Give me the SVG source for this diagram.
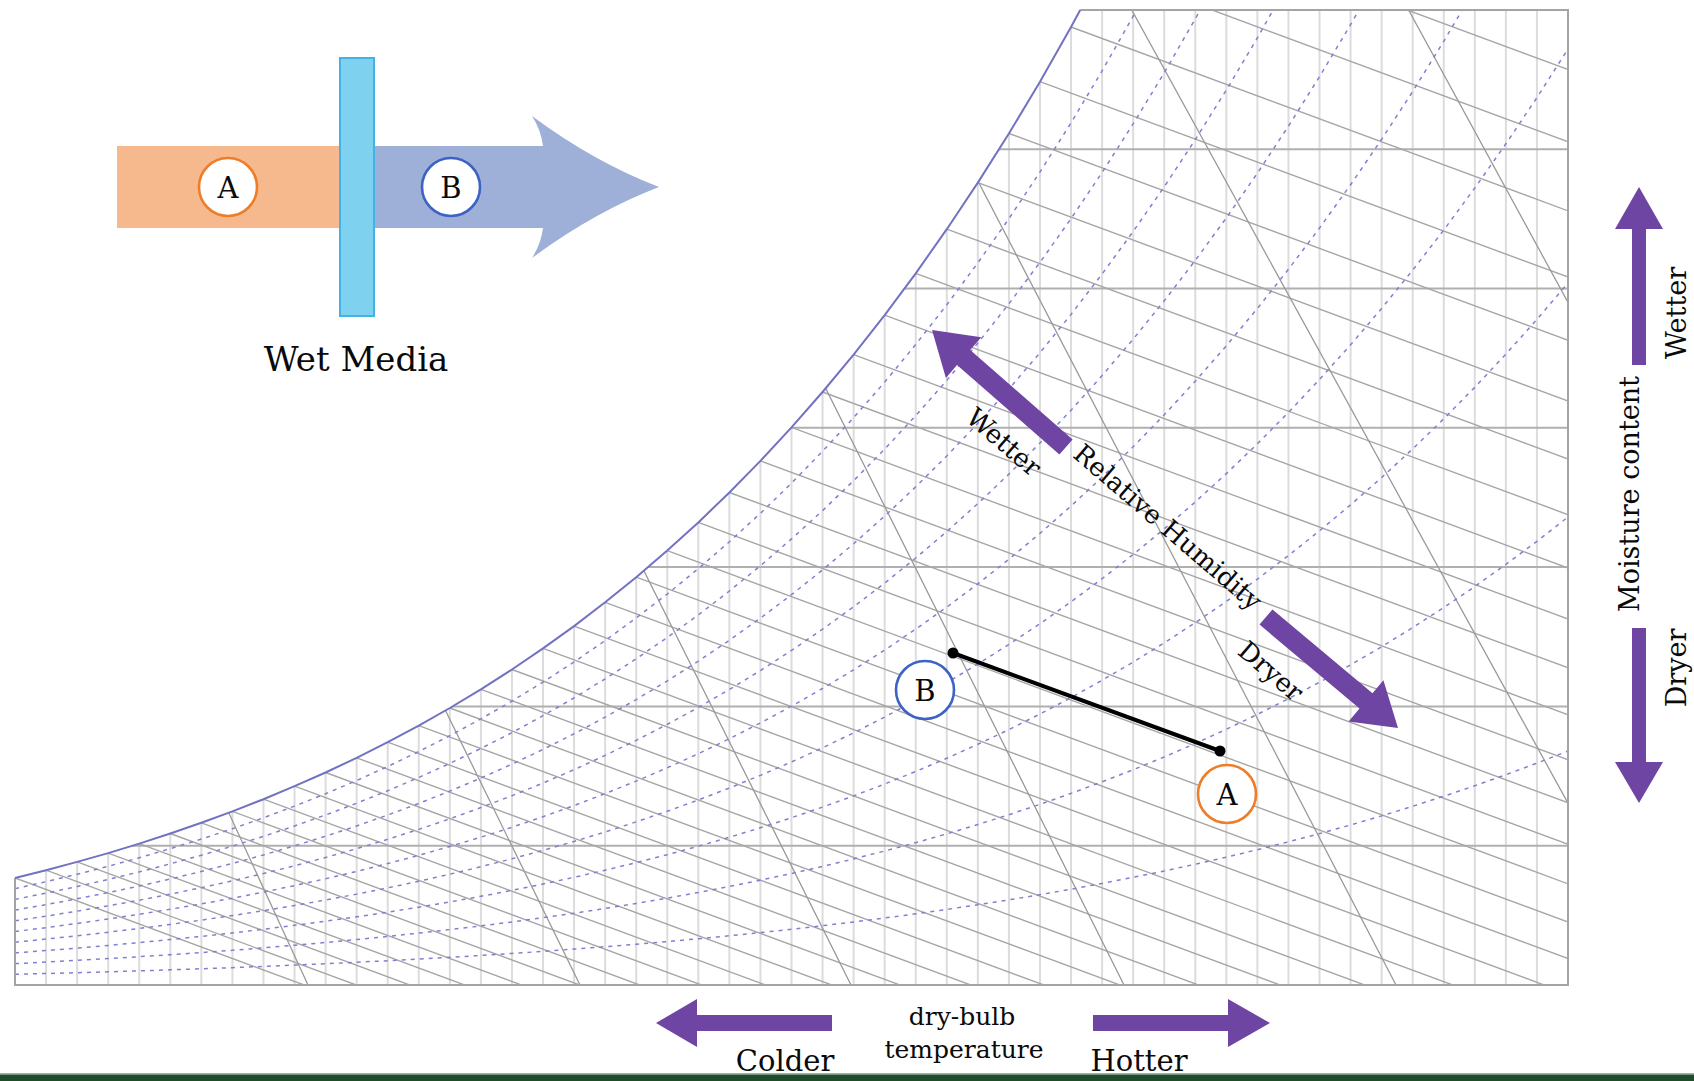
<svg xmlns="http://www.w3.org/2000/svg" xmlns:xlink="http://www.w3.org/1999/xlink" width="1694" height="1081" viewBox="0 0 1694 1081">
<defs>
<style>
.lbl{font-family:"DejaVu Serif","Liberation Serif",serif;fill:#0a0a0a}
.vgrid{stroke:#dcdcdc;stroke-width:2;fill:none}
.hgrid{stroke:#b0b0b0;stroke-width:2;fill:none}
.wb{stroke:#a6a6a6;stroke-width:1.4;fill:none}
.vol{stroke:#9a9a9a;stroke-width:1.3;fill:none}
.rh{stroke:#8080d0;stroke-width:1.5;stroke-dasharray:4 5;fill:none}
.frame{stroke:#a4a4a4;stroke-width:2;fill:none}
.sat{stroke:#7272c2;stroke-width:2;fill:none}
.purple{fill:#6f45a3}
.ring{fill:#fff;stroke-width:2.6}
</style>
<clipPath id="chartClip">
<path d="M15,985 L15,878 L46.06,870.2 L77.12,861.9 L108.18,853.1 L139.24,843.6 L170.3,833.5 L201.36,822.8 L232.42,811.4 L263.48,799.2 L294.54,786.2 L325.6,772.5 L356.66,757.8 L387.72,742.2 L418.78,725.6 L449.84,708 L480.9,689.3 L511.96,669.5 L543.02,648.4 L574.08,626.1 L605.14,602.3 L636.2,577.2 L667.26,550.6 L698.32,522.4 L729.38,492.5 L760.44,460.9 L791.5,427.4 L822.56,392 L853.62,354.6 L884.68,315.1 L915.74,273.3 L946.8,229.2 L977.86,182.6 L1008.92,133.5 L1039.98,81.7 L1071.04,27 L1080.2,10 L1568,10 L1568,985 Z"/>
</clipPath>
<path id="satExt" fill="none" vector-effect="non-scaling-stroke" d="M15,878 L46.06,870.2 L77.12,861.9 L108.18,853.1 L139.24,843.6 L170.3,833.5 L201.36,822.8 L232.42,811.4 L263.48,799.2 L294.54,786.2 L325.6,772.5 L356.66,757.8 L387.72,742.2 L418.78,725.6 L449.84,708 L480.9,689.3 L511.96,669.5 L543.02,648.4 L574.08,626.1 L605.14,602.3 L636.2,577.2 L667.26,550.6 L698.32,522.4 L729.38,492.5 L760.44,460.9 L791.5,427.4 L822.56,392 L853.62,354.6 L884.68,315.1 L915.74,273.3 L946.8,229.2 L977.86,182.6 L1008.92,133.5 L1039.98,81.7 L1071.04,27 L1102.1,-30.7 L1133.16,-91.4 L1164.22,-155.3 L1195.28,-222.7 L1226.34,-293.5 L1257.4,-368.1 L1288.46,-446.5 L1319.52,-528.9 L1350.58,-615.5 L1381.64,-706.5 L1412.7,-802.1 L1443.76,-902.4 L1474.82,-1007.6 L1505.88,-1118 L1536.94,-1233.6 L1568,-1354.9"/>
</defs>

<rect width="1694" height="1081" fill="#ffffff"/>

<g id="chart">
<g id="chart-grid" clip-path="url(#chartClip)">
<path class="vgrid" d="M46.06,985V0M77.12,985V0M108.18,985V0M139.24,985V0M170.3,985V0M201.36,985V0M232.42,985V0M263.48,985V0M294.54,985V0M325.6,985V0M356.66,985V0M387.72,985V0M418.78,985V0M449.84,985V0M480.9,985V0M511.96,985V0M543.02,985V0M574.08,985V0M605.14,985V0M636.2,985V0M667.26,985V0M698.32,985V0M729.38,985V0M760.44,985V0M791.5,985V0M822.56,985V0M853.62,985V0M884.68,985V0M915.74,985V0M946.8,985V0M977.86,985V0M1008.92,985V0M1039.98,985V0M1071.04,985V0M1102.1,985V0M1133.16,985V0M1164.22,985V0M1195.28,985V0M1226.34,985V0M1257.4,985V0M1288.46,985V0M1319.52,985V0M1350.58,985V0M1381.64,985V0M1412.7,985V0M1443.76,985V0M1474.82,985V0M1505.88,985V0M1536.94,985V0"/>
<path class="hgrid" d="M0,845.7H1600M0,706.4H1600M0,567.1H1600M0,427.8H1600M0,288.5H1600M0,149.2H1600"/>
<path class="wb" d="M15,878l2000,740M46.06,870.2l2000,740M77.12,861.9l2000,740M108.18,853.1l2000,740M139.24,843.6l2000,740M170.3,833.5l2000,740M201.36,822.8l2000,740M232.42,811.4l2000,740M263.48,799.2l2000,740M294.54,786.2l2000,740M325.6,772.5l2000,740M356.66,757.8l2000,740M387.72,742.2l2000,740M418.78,725.6l2000,740M449.84,708l2000,740M480.9,689.3l2000,740M511.96,669.5l2000,740M543.02,648.4l2000,740M574.08,626.1l2000,740M605.14,602.3l2000,740M636.2,577.2l2000,740M667.26,550.6l2000,740M698.32,522.4l2000,740M729.38,492.5l2000,740M760.44,460.9l2000,740M791.5,427.4l2000,740M822.56,392l2000,740M853.62,354.6l2000,740M884.68,315.1l2000,740M915.74,273.3l2000,740M946.8,229.2l2000,740M977.86,182.6l2000,740M1008.92,133.5l2000,740M1039.98,81.7l2000,740M1071.04,27l2000,740M1102.1,-30.7l2000,740M1133.16,-91.4l2000,740"/>
<path class="vol" d="M308,985L-152,-15M580,985L90,-15M851,985L351,-15M1124,985L624,-15M1396,985L876,-15M1668,985L1118,-15M1940,985L1395,-15"/>
<g class="rh">
<use xlink:href="#satExt" transform="matrix(1,0,0,0.9,0,98.5)"/>
<use xlink:href="#satExt" transform="matrix(1,0,0,0.8,0,197)"/>
<use xlink:href="#satExt" transform="matrix(1,0,0,0.7,0,295.5)"/>
<use xlink:href="#satExt" transform="matrix(1,0,0,0.6,0,394)"/>
<use xlink:href="#satExt" transform="matrix(1,0,0,0.5,0,492.5)"/>
<use xlink:href="#satExt" transform="matrix(1,0,0,0.4,0,591)"/>
<use xlink:href="#satExt" transform="matrix(1,0,0,0.3,0,689.5)"/>
<use xlink:href="#satExt" transform="matrix(1,0,0,0.2,0,788)"/>
<use xlink:href="#satExt" transform="matrix(1,0,0,0.1,0,886.5)"/>
</g>
</g>
<path id="chart-frame" class="frame" d="M15,878L15,985L1568,985L1568,10L1080.2,10"/>
<path id="saturation-curve" class="sat" d="M15,878 L46.06,870.2 L77.12,861.9 L108.18,853.1 L139.24,843.6 L170.3,833.5 L201.36,822.8 L232.42,811.4 L263.48,799.2 L294.54,786.2 L325.6,772.5 L356.66,757.8 L387.72,742.2 L418.78,725.6 L449.84,708 L480.9,689.3 L511.96,669.5 L543.02,648.4 L574.08,626.1 L605.14,602.3 L636.2,577.2 L667.26,550.6 L698.32,522.4 L729.38,492.5 L760.44,460.9 L791.5,427.4 L822.56,392 L853.62,354.6 L884.68,315.1 L915.74,273.3 L946.8,229.2 L977.86,182.6 L1008.92,133.5 L1039.98,81.7 L1071.04,27 L1080.2,10"/>
</g>

<g id="flow-diagram">
<rect id="flow-orange" x="117" y="146" width="225" height="82" fill="#f6b88d"/>
<path id="flow-arrow" d="M372,146 L543,146 Q541,130 532,116 Q594,162 659,187 Q594,212 532,258 Q541,244 543,228 L372,228 Z" fill="#9eb0d8"/>
<rect id="wet-media" x="340" y="58" width="34" height="258" fill="#7ed2f0" stroke="#44b2e2" stroke-width="2"/>
<g id="flow-A"><circle class="ring" cx="228" cy="187" r="29" stroke="#ee7d2a"/><text class="lbl" x="228" y="198" font-size="29" text-anchor="middle">A</text></g>
<g id="flow-B"><circle class="ring" cx="451" cy="187" r="29" stroke="#3b62c4"/><text class="lbl" x="451" y="198" font-size="29" text-anchor="middle">B</text></g>
<text id="wet-media-label" class="lbl" x="356" y="371" font-size="34" text-anchor="middle">Wet Media</text>
</g>

<g id="connectors">
<line x1="953" y1="653" x2="1220" y2="751" stroke="#000" stroke-width="4"/>
<circle cx="953" cy="653" r="5.5" fill="#000"/>
<circle cx="1220" cy="751" r="5.5" fill="#000"/>
</g>

<g id="point-B"><circle class="ring" cx="925" cy="690" r="29" stroke="#3b62c4"/><text class="lbl" x="925" y="701" font-size="29" text-anchor="middle">B</text></g>
<g id="point-A"><circle class="ring" cx="1227" cy="794" r="29" stroke="#ee7d2a"/><text class="lbl" x="1227" y="805" font-size="29" text-anchor="middle">A</text></g>

<g id="rh-indicator">
<polygon class="purple" points="1072.6,439.5 970.2,350.1 981.3,337.3 932,330 945.9,377.9 957,365.1 1059.4,454.5"/>
<polygon class="purple" points="1259.5,624.6 1359.5,708.5 1348.6,721.5 1398,728 1383.4,680.3 1372.5,693.3 1272.5,609.4"/>
<text class="lbl" font-size="26" text-anchor="middle" transform="translate(1004,442) rotate(40.7)" dy="0.35em">Wetter</text>
<text class="lbl" font-size="26" text-anchor="middle" transform="translate(1168,527) rotate(40.7)" dy="0.35em">Relative Humidity</text>
<text class="lbl" font-size="26" text-anchor="middle" transform="translate(1271,671) rotate(40.7)" dy="0.35em">Dryer</text>
</g>

<g id="moisture-indicator">
<polygon class="purple" points="1632,365 1632,229 1615,229 1639,187 1663,229 1646,229 1646,365"/>
<polygon class="purple" points="1632,628 1646,628 1646,762 1663,762 1639,803 1615,762 1632,762"/>
<text class="lbl" font-size="27" text-anchor="middle" transform="translate(1639,494) rotate(-90)">Moisture content</text>
<text class="lbl" font-size="27" text-anchor="middle" transform="translate(1686,313) rotate(-90)">Wetter</text>
<text class="lbl" font-size="27" text-anchor="middle" transform="translate(1686,668) rotate(-90)">Dryer</text>
</g>

<g id="temperature-indicator">
<polygon class="purple" points="832,1015 697,1015 697,999 656,1023 697,1047 697,1031 832,1031"/>
<polygon class="purple" points="1093,1015 1228,1015 1228,999 1270,1023 1228,1047 1228,1031 1093,1031"/>
<text class="lbl" x="962" y="1025" font-size="25" text-anchor="middle">dry-bulb</text>
<text class="lbl" x="964" y="1058" font-size="25" text-anchor="middle">temperature</text>
<text class="lbl" x="785" y="1071" font-size="29" text-anchor="middle">Colder</text>
<text class="lbl" x="1139" y="1071" font-size="29" text-anchor="middle">Hotter</text>
</g>

<g id="footer-bar">
<rect x="0" y="1073" width="1694" height="1.5" fill="#9db69d"/>
<rect x="0" y="1074.5" width="1694" height="6.5" fill="#1f4d2a"/>
</g>
</svg>
